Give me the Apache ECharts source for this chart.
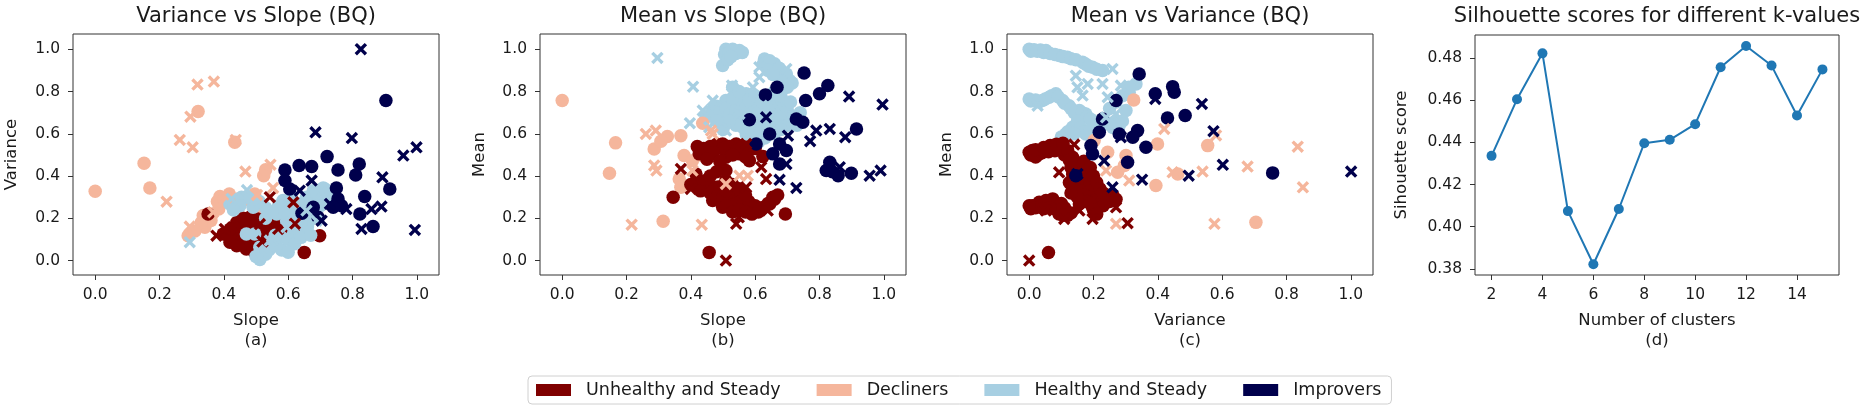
<!DOCTYPE html>
<html><head><meta charset="utf-8">
<script src="https://cdn.jsdelivr.net/npm/echarts@6/dist/echarts.min.js"></script>
<style>html,body{margin:0;padding:0;background:#fff}#c{width:1868px;height:419px}</style>
</head><body><div id="c"></div>
<script>
// ---------- data ----------
const clusterNames = ['Unhealthy and Steady', 'Decliners', 'Healthy and Steady', 'Improvers'];
const unitTicks = [0, 0.2, 0.4, 0.6, 0.8, 1.0];
const kTicks = [2, 4, 6, 8, 10, 12, 14];
const scoreTicks = [0.38, 0.40, 0.42, 0.44, 0.46, 0.48];

// Panel (a): [slope, variance]
const A_uns_o = [[0.351,0.221],[0.698,0.118],[0.650,0.039],[0.419,0.087],[0.439,0.103],[0.470,0.055],[0.496,0.039],[0.507,0.028],[0.527,0.063],[0.460,0.173],[0.481,0.205],[0.507,0.197],[0.543,0.173],[0.574,0.221],[0.553,0.126],[0.517,0.118],[0.627,0.145],[0.398,0.126],[0.574,0.173],[0.595,0.126],[0.485,0.070],[0.450,0.150],[0.530,0.150],[0.610,0.160],
  [0.42,0.11],[0.44,0.07],[0.46,0.08],[0.47,0.12],[0.48,0.10],[0.49,0.06],[0.50,0.09],[0.51,0.12],[0.52,0.04],[0.56,0.19],[0.59,0.20],[0.46,0.20],[0.48,0.16],[0.50,0.17],[0.52,0.15],[0.44,0.18],[0.42,0.15]];
const A_uns_x = [[0.377,0.118],[0.543,0.300],[0.616,0.276],[0.569,0.150],[0.512,0.173],[0.429,0.158],[0.621,0.174],[0.403,0.150],[0.520,0.090]];
const A_dec_o = [[0.000,0.328],[0.152,0.461],[0.170,0.344],[0.320,0.705],[0.434,0.560],[0.524,0.402],[0.388,0.303],[0.417,0.315],[0.384,0.244],[0.336,0.213],[0.341,0.158],[0.289,0.118],[0.507,0.260],[0.460,0.284],[0.496,0.315],[0.360,0.190],
  [0.38,0.28],[0.40,0.29],[0.42,0.27],[0.44,0.29],[0.36,0.22],[0.33,0.18],[0.31,0.14],[0.53,0.43]];
const A_dec_x = [[0.318,0.833],[0.369,0.847],[0.296,0.681],[0.263,0.571],[0.303,0.536],[0.437,0.571],[0.222,0.279],[0.467,0.421],[0.545,0.454],[0.294,0.161],[0.408,0.300],[0.503,0.311],[0.553,0.344],[0.367,0.229]];
const A_hs_o = [[0.714,0.339],[0.678,0.331],[0.657,0.300],[0.616,0.221],[0.595,0.189],[0.564,0.221],[0.470,0.126],[0.496,0.126],[0.512,0.063],[0.512,0.005],[0.553,0.095],[0.579,0.110],[0.616,0.126],[0.657,0.142],[0.626,0.174],[0.647,0.252],[0.419,0.268],[0.455,0.300],[0.491,0.252],[0.688,0.284],[0.719,0.300],[0.584,0.284],[0.709,0.343],[0.540,0.050],[0.530,0.200],[0.600,0.250],[0.660,0.200],
  [0.56,0.07],[0.58,0.05],[0.60,0.10],[0.62,0.08],[0.64,0.11],[0.66,0.16],[0.68,0.22],[0.70,0.26],[0.72,0.32],[0.69,0.32],[0.66,0.27],[0.63,0.27],[0.61,0.30],[0.59,0.24],[0.57,0.26],[0.55,0.23],[0.53,0.25],[0.51,0.28],[0.49,0.29],[0.47,0.30],[0.45,0.26],[0.43,0.24],[0.50,0.02],[0.53,0.03],[0.56,0.12],[0.62,0.20],[0.64,0.18],[0.67,0.12],[0.60,0.04]];
const A_hs_x = [[0.294,0.087],[0.472,0.334],[0.424,0.292],[0.704,0.323],[0.595,0.158],[0.543,0.095],[0.657,0.237],[0.512,0.016],[0.688,0.189]];
const A_imp_o = [[0.904,0.757],[0.721,0.492],[0.590,0.429],[0.634,0.450],[0.673,0.445],[0.755,0.429],[0.821,0.457],[0.810,0.405],[0.916,0.339],[0.838,0.303],[0.750,0.344],[0.755,0.292],[0.766,0.260],[0.740,0.252],[0.823,0.221],[0.864,0.161],[0.693,0.205],[0.590,0.379],[0.605,0.339],[0.643,0.224],[0.678,0.252]];
const A_imp_x = [[0.826,1.000],[0.999,0.536],[0.958,0.497],[0.685,0.607],[0.798,0.580],[0.893,0.394],[0.994,0.145],[0.828,0.150],[0.890,0.256],[0.859,0.244],[0.673,0.379],[0.636,0.331],[0.781,0.244],[0.730,0.268],[0.704,0.189]];

// Panel (b): [slope, mean]
const B_uns_o = [[0.457,0.039],[0.345,0.300],[0.694,0.221],[0.624,0.492],[0.499,0.552],[0.541,0.552],[0.468,0.505],[0.509,0.489],[0.551,0.505],[0.582,0.473],[0.426,0.505],[0.416,0.410],[0.447,0.379],[0.478,0.347],[0.509,0.379],[0.489,0.315],[0.468,0.284],[0.509,0.284],[0.551,0.300],[0.572,0.268],[0.603,0.252],[0.655,0.300],[0.645,0.268],[0.530,0.252],[0.499,0.252],[0.509,0.426],[0.572,0.536],[0.420,0.540],[0.530,0.330],[0.580,0.240],
  [0.44,0.53],[0.46,0.54],[0.48,0.55],[0.50,0.53],[0.52,0.54],[0.54,0.52],[0.56,0.54],[0.58,0.52],[0.60,0.53],[0.47,0.51],[0.53,0.50],[0.57,0.49],[0.45,0.48],[0.49,0.47],
  [0.42,0.38],[0.44,0.36],[0.43,0.33],[0.46,0.32],[0.48,0.30],[0.50,0.31],[0.52,0.29],[0.54,0.27],[0.56,0.26],[0.58,0.28],[0.60,0.26],[0.62,0.25],[0.64,0.27],[0.66,0.29],[0.67,0.31],[0.51,0.26],[0.53,0.23],[0.55,0.24],[0.57,0.23],[0.59,0.22],[0.61,0.23],[0.49,0.35],[0.51,0.33],[0.53,0.36],[0.55,0.34],[0.57,0.31],[0.46,0.40],[0.48,0.42],[0.40,0.36]];
const B_uns_x = [[0.509,0.000],[0.369,0.434],[0.400,0.339],[0.549,0.205],[0.541,0.174],[0.572,0.552],[0.634,0.386],[0.619,0.442],[0.639,0.237],[0.572,0.347],[0.447,0.331]];
const B_dec_o = [[0.000,0.757],[0.166,0.557],[0.147,0.413],[0.314,0.186],[0.327,0.587],[0.369,0.591],[0.286,0.528],[0.307,0.565],[0.379,0.497],[0.364,0.386],[0.369,0.347],[0.437,0.650],[0.405,0.473],[0.430,0.500]];
const B_dec_x = [[0.216,0.170],[0.434,0.170],[0.260,0.599],[0.291,0.615],[0.286,0.450],[0.293,0.426],[0.463,0.615],[0.551,0.402],[0.577,0.402],[0.509,0.363],[0.468,0.599],[0.405,0.426]];
const B_hs_o = [[0.509,1.000],[0.530,1.000],[0.499,0.923],[0.551,0.994],[0.629,0.954],[0.660,0.931],[0.697,0.883],[0.707,0.852],[0.665,0.899],[0.468,0.710],[0.509,0.757],[0.551,0.726],[0.593,0.694],[0.634,0.710],[0.676,0.726],[0.697,0.678],[0.655,0.647],[0.613,0.615],[0.572,0.599],[0.541,0.662],[0.499,0.647],[0.447,0.678],[0.572,0.789],[0.530,0.820],[0.655,0.757],[0.561,0.631],[0.603,0.568],
  [0.505,0.975],[0.520,0.985],[0.540,0.980],[0.560,0.985],[0.515,0.95],[0.525,0.965],
  [0.625,0.93],[0.645,0.945],[0.640,0.90],[0.675,0.91],[0.690,0.87],[0.715,0.84],[0.700,0.82],[0.680,0.85],[0.655,0.88],
  [0.46,0.69],[0.48,0.73],[0.49,0.70],[0.50,0.67],[0.51,0.72],[0.52,0.69],[0.53,0.74],[0.54,0.71],[0.55,0.68],[0.56,0.75],[0.57,0.72],[0.58,0.69],[0.59,0.66],[0.60,0.73],[0.61,0.70],[0.62,0.67],[0.63,0.64],[0.64,0.68],[0.65,0.72],[0.66,0.69],[0.67,0.66],[0.68,0.70],[0.69,0.74],[0.70,0.71],[0.71,0.68],[0.72,0.66],[0.70,0.64],[0.68,0.62],[0.66,0.60],[0.64,0.62],[0.62,0.60],[0.60,0.62],[0.58,0.63],[0.56,0.65],[0.54,0.64],[0.52,0.66],[0.50,0.62],[0.48,0.66],[0.53,0.77],[0.55,0.80],[0.58,0.76],[0.60,0.78],[0.62,0.75],[0.64,0.77],[0.66,0.80],[0.68,0.78],[0.71,0.75],[0.74,0.70],[0.73,0.64],[0.59,0.58],[0.61,0.56],[0.63,0.58]];
const B_hs_x = [[0.296,0.959],[0.407,0.823],[0.397,0.650],[0.528,0.828],[0.613,0.915],[0.697,0.907],[0.593,0.820],[0.468,0.757],[0.551,0.694],[0.645,0.733],[0.686,0.686],[0.509,0.615],[0.437,0.710],[0.613,0.868],[0.457,0.631]];
const B_imp_o = [[0.752,0.888],[0.668,0.820],[0.757,0.757],[0.826,0.828],[0.800,0.789],[0.632,0.784],[0.582,0.666],[0.728,0.670],[0.748,0.655],[0.645,0.599],[0.915,0.623],[0.832,0.465],[0.821,0.426],[0.858,0.402],[0.899,0.413],[0.676,0.552],[0.655,0.505],[0.676,0.457],[0.697,0.521],[0.603,0.552],[0.840,0.420]];
const B_imp_x = [[0.996,0.738],[0.892,0.776],[0.790,0.615],[0.832,0.623],[0.771,0.565],[0.880,0.584],[0.728,0.344],[0.676,0.382],[0.956,0.402],[0.990,0.426],[0.863,0.442],[0.697,0.457],[0.702,0.591],[0.634,0.678]];

// Panel (c): [variance, mean]
const C_uns_o = [[0.060,0.038],[0.000,0.513],[0.010,0.521],[0.031,0.505],[0.052,0.528],[0.073,0.544],[0.093,0.536],[0.000,0.260],[0.010,0.260],[0.031,0.276],[0.052,0.284],[0.073,0.292],[0.093,0.221],[0.119,0.213],[0.135,0.489],[0.156,0.457],[0.176,0.426],[0.135,0.410],[0.166,0.363],[0.197,0.347],[0.218,0.315],[0.135,0.347],[0.176,0.300],[0.197,0.252],[0.228,0.284],[0.156,0.268],[0.110,0.500],[0.090,0.260],
  [0.005,0.50],[0.02,0.49],[0.04,0.51],[0.06,0.515],[0.08,0.52],[0.10,0.53],[0.02,0.525],[0.045,0.535],[0.065,0.545],[0.085,0.55],[0.105,0.555],[0.12,0.52],[0.125,0.475],
  [0.005,0.245],[0.02,0.25],[0.04,0.265],[0.06,0.27],[0.08,0.275],[0.10,0.27],[0.11,0.25],[0.085,0.24],[0.065,0.25],[0.045,0.245],[0.13,0.225],[0.105,0.215],
  [0.14,0.46],[0.15,0.43],[0.16,0.40],[0.17,0.38],[0.18,0.36],[0.19,0.33],[0.20,0.31],[0.21,0.29],[0.22,0.27],[0.23,0.26],[0.24,0.30],[0.25,0.28],[0.15,0.38],[0.14,0.35],[0.16,0.33],[0.17,0.31],[0.18,0.28],[0.19,0.27],[0.20,0.24],[0.21,0.22],[0.15,0.30],[0.13,0.32],[0.125,0.37],[0.13,0.44],[0.17,0.47],[0.19,0.44],[0.20,0.40],[0.21,0.37],[0.22,0.34],[0.23,0.32],[0.26,0.31],[0.27,0.29]];
const C_uns_x = [[0.000,0.000],[0.140,0.549],[0.306,0.177],[0.270,0.252],[0.093,0.418],[0.156,0.237],[0.109,0.197],[0.197,0.197],[0.052,0.237]];
const C_dec_o = [[0.325,0.760],[0.399,0.552],[0.555,0.544],[0.462,0.410],[0.394,0.355],[0.705,0.181],[0.244,0.513],[0.301,0.497],[0.202,0.568],[0.109,0.528],[0.296,0.450],[0.275,0.418]];
const C_dec_x = [[0.835,0.539],[0.851,0.347],[0.679,0.445],[0.539,0.421],[0.446,0.418],[0.576,0.174],[0.270,0.174],[0.420,0.623],[0.581,0.592],[0.311,0.379],[0.239,0.426]];
const C_hs_o = [[0.000,1.000],[0.015,0.998],[0.035,0.996],[0.052,0.994],[0.093,0.970],[0.119,0.962],[0.166,0.938],[0.197,0.915],[0.228,0.899],[0.000,0.765],[0.020,0.760],[0.041,0.757],[0.062,0.773],[0.083,0.789],[0.104,0.757],[0.124,0.733],[0.156,0.710],[0.176,0.694],[0.197,0.662],[0.239,0.647],[0.270,0.662],[0.301,0.710],[0.332,0.836],[0.311,0.797],[0.135,0.631],[0.114,0.599],[0.104,0.568],[0.176,0.599],
  [0.005,0.99],[0.025,0.99],[0.045,0.985],[0.065,0.98],[0.08,0.975],[0.105,0.965],[0.13,0.955],[0.145,0.95],[0.175,0.93],[0.185,0.92],[0.21,0.905],
  [0.005,0.755],[0.03,0.75],[0.05,0.765],[0.07,0.78],[0.09,0.775],[0.11,0.745],[0.13,0.72],[0.14,0.70],[0.165,0.70],[0.18,0.68],[0.19,0.67],[0.21,0.65],[0.225,0.64],[0.25,0.65],[0.26,0.63],[0.28,0.64],[0.29,0.66],[0.15,0.66],[0.16,0.63],[0.17,0.61],[0.12,0.61],[0.10,0.585],[0.14,0.60],[0.19,0.62],[0.21,0.60],[0.25,0.72],[0.27,0.75],[0.29,0.78],[0.31,0.82]];
const C_hs_x = [[0.259,0.907],[0.145,0.875],[0.150,0.820],[0.182,0.836],[0.228,0.836],[0.285,0.828],[0.244,0.773],[0.026,0.733],[0.166,0.781],[0.239,0.678],[0.270,0.694]];
const C_imp_o = [[0.342,0.883],[0.446,0.823],[0.451,0.797],[0.392,0.789],[0.270,0.757],[0.430,0.675],[0.485,0.686],[0.228,0.670],[0.218,0.607],[0.192,0.544],[0.197,0.505],[0.337,0.615],[0.322,0.584],[0.363,0.536],[0.306,0.465],[0.757,0.415],[0.145,0.402],[0.280,0.599]];
const C_imp_x = [[0.537,0.741],[0.573,0.612],[0.602,0.453],[0.496,0.402],[0.351,0.383],[1.001,0.421],[0.259,0.347],[0.392,0.765],[0.285,0.584],[0.233,0.473],[0.150,0.410]];

// Panel (d): silhouette scores
const kValues = [2,3,4,5,6,7,8,9,10,11,12,13,14,15];
const silhouetteScores = [0.4336,0.4604,0.4822,0.4074,0.3822,0.4084,0.4396,0.4412,0.4486,0.4756,0.4857,0.4764,0.4527,0.4746];

// ---------- style ----------
const FONT = 'DejaVu Sans';
const TXT = '#1a1a1a';
const clusterColors = ['#7f0000', '#f5b69c', '#a7cfe2', '#00004c'];
const XSYM = 'path://M0,1.9L1.9,0L5,3.1L8.1,0L10,1.9L6.9,5L10,8.1L8.1,10L5,6.9L1.9,10L0,8.1L3.1,5Z';

const panels = [
  {title:'Variance vs Slope (BQ)', xName:'Slope\n(a)', yName:'Variance', left:73, yGap:51, order:[1, 0, 2, 3],
   o:[A_uns_o,A_dec_o,A_hs_o,A_imp_o], x:[A_uns_x,A_dec_x,A_hs_x,A_imp_x]},
  {title:'Mean vs Slope (BQ)', xName:'Slope\n(b)', yName:'Mean', left:540, yGap:50, order:[2, 1, 0, 3],
   o:[B_uns_o,B_dec_o,B_hs_o,B_imp_o], x:[B_uns_x,B_dec_x,B_hs_x,B_imp_x]},
  {title:'Mean vs Variance (BQ)', xName:'Variance\n(c)', yName:'Mean', left:1007, yGap:50, order:[2, 1, 0, 3],
   o:[C_uns_o,C_dec_o,C_hs_o,C_imp_o], x:[C_uns_x,C_dec_x,C_hs_x,C_imp_x]}
];

const grids = [], xAxes = [], yAxes = [], series = [], graphics = [];
const labelStyle = {fontFamily:FONT, fontSize:15.5, color:TXT};
const nameStyle = {fontFamily:FONT, fontSize:16.5, color:TXT, lineHeight:20};

function axisCommon(ticks, fmt, margin) {
  return {
    axisLine:{show:false, onZero:false}, splitLine:{show:false},
    axisTick:{show:true, length:5, inside:false, lineStyle:{color:'#333', width:1}, customValues:ticks},
    axisLabel:Object.assign({customValues:ticks, formatter:fmt, margin:margin}, labelStyle)
  };
}

panels.forEach((p, i) => {
  grids.push({left:p.left, top:34, width:366, height:241, show:true, borderColor:'#333', borderWidth:1, backgroundColor:'transparent'});
  xAxes.push(Object.assign({type:'value', gridIndex:i, position:'bottom', min:-0.069, max:1.069, name:p.xName, nameLocation:'middle', nameGap:36, nameTextStyle:nameStyle},
    axisCommon(unitTicks, v => v.toFixed(1), 12)));
  yAxes.push(Object.assign({type:'value', gridIndex:i, position:'left', min:-0.068, max:1.072, name:p.yName, nameLocation:'middle', nameRotate:90, nameGap:p.yGap, nameTextStyle:nameStyle},
    axisCommon(unitTicks, v => v.toFixed(1), 13)));
  graphics.push({type:'text', x:p.left + 183, y:17, style:{text:p.title, align:'center', verticalAlign:'middle', font:'21px "DejaVu Sans"', fill:TXT}});
  p.order.forEach(c => {
    series.push({type:'scatter', name:clusterNames[c], xAxisIndex:i, yAxisIndex:i, symbol:'circle', symbolSize:13.5,
      itemStyle:{color:clusterColors[c], opacity:1}, data:p.o[c], silent:true});
  });
  p.order.forEach(c => {
    series.push({type:'scatter', name:clusterNames[c], xAxisIndex:i, yAxisIndex:i, symbol:XSYM, symbolSize:12.5,
      itemStyle:{color:clusterColors[c], opacity:1}, data:p.x[c], silent:true});
  });
});

// panel d
grids.push({left:1475, top:35, width:364, height:240, show:true, borderColor:'#333', borderWidth:1, backgroundColor:'transparent'});
xAxes.push(Object.assign({type:'value', gridIndex:3, position:'bottom', min:1.35, max:15.65, name:'Number of clusters\n(d)', nameLocation:'middle', nameGap:36, nameTextStyle:nameStyle},
  axisCommon(kTicks, v => String(Math.round(v)), 12)));
yAxes.push(Object.assign({type:'value', gridIndex:3, position:'left', min:0.3771, max:0.4909, name:'Sihouette score', nameLocation:'middle', nameRotate:90, nameGap:63, nameTextStyle:nameStyle},
  axisCommon(scoreTicks, v => v.toFixed(2), 13)));
graphics.push({type:'text', x:1657, y:17, style:{text:'Silhouette scores for different k-values', align:'center', verticalAlign:'middle', font:'21px "DejaVu Sans"', fill:TXT}});
series.push({type:'line', name:'silhouette', xAxisIndex:3, yAxisIndex:3, data:kValues.map((k, j) => [k, silhouetteScores[j]]),
  symbol:'circle', symbolSize:10, showSymbol:true, lineStyle:{color:'#1f77b4', width:2}, itemStyle:{color:'#1f77b4'}, silent:true});

const chart = echarts.init(document.getElementById('c'), null, {renderer:'canvas'});
chart.setOption({
  animation:false,
  backgroundColor:'#fff',
  grid:grids, xAxis:xAxes, yAxis:yAxes, series:series,
  graphic:graphics,
  legend:{
    data:clusterNames.map(n => ({name:n, icon:'rect'})),
    left:528, top:376, orient:'horizontal', selectedMode:false,
    itemWidth:35, itemHeight:12, itemGap:36,
    padding:[5,10,5,8], borderColor:'#d0d0d0', borderWidth:1, borderRadius:4,
    textStyle:{fontFamily:FONT, fontSize:17.5, color:TXT, padding:[0,0,0,10]}
  }
});
</script></body></html>
